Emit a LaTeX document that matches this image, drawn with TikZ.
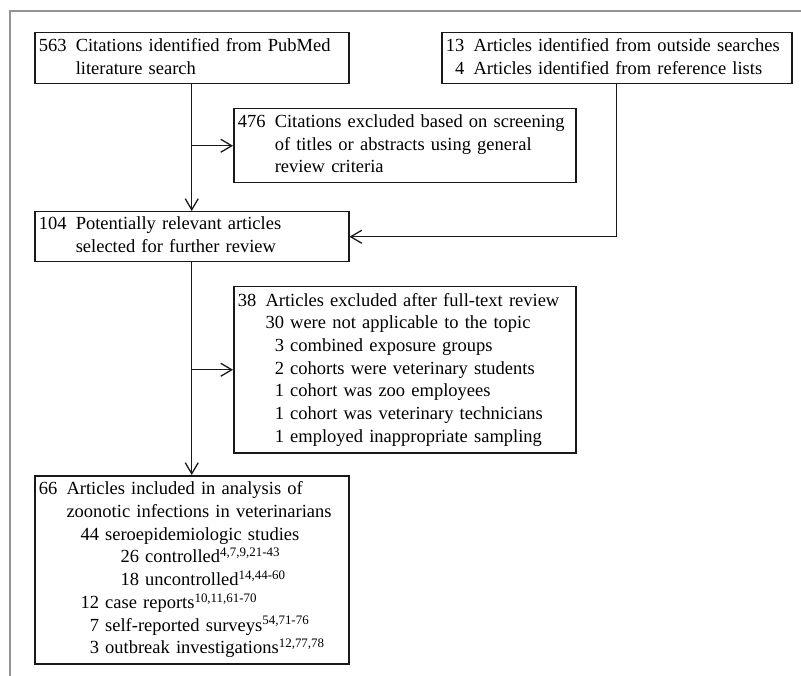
\documentclass[tikz,border=0pt]{standalone}
\usepackage{fontspec}
\setmainfont{Liberation Serif}
\usetikzlibrary{arrows.meta}
\newcommand{\flowfont}{\fontsize{18.5}{22.7}\selectfont}
\tikzset{
  box/.style={draw=black!90, line width=1.5pt, anchor=north west,
    inner xsep=4pt, inner ysep=0pt, align=left, font=\flowfont},
  link/.style={draw=black!90, line width=1.3pt, ->}
}

\begin{document}
\begin{tikzpicture}[x=1pt, y=-1pt, >={Straight Barb[length=11pt,width=13pt]}]
\useasboundingbox (0,0) rectangle (801,676);
\draw[black!42, line width=2.5pt] (10,676) -- (10,11) -- (801,11);

% boxes
\node[box, minimum width=314pt, minimum height=51pt, text width=306pt] (search) at (34,32)
  {\begin{tabular}{@{}r@{\hspace{0.5em}}l@{}}
   563 & Citations identified from PubMed\\
       & literature search
   \end{tabular}};
\node[box, minimum width=350pt, minimum height=51pt, text width=342pt] (outside) at (441,32)
  {\begin{tabular}{@{}r@{\hspace{0.5em}}l@{}}
   13 & Articles identified from outside searches\\
   4  & Articles identified from reference lists
   \end{tabular}};
\node[box, minimum width=342pt, minimum height=74pt, text width=334pt] (screen) at (233,108)
  {\begin{tabular}{@{}r@{\hspace{0.5em}}l@{}}
   476 & Citations excluded based on screening\\
       & of titles or abstracts using general\\
       & review criteria
   \end{tabular}};
\node[box, minimum width=314pt, minimum height=50pt, text width=306pt] (relevant) at (34,211)
  {\begin{tabular}{@{}r@{\hspace{0.5em}}l@{}}
   104 & Potentially relevant articles\\
       & selected for further review
   \end{tabular}};
\node[box, minimum width=342pt, minimum height=166pt, text width=334pt] (fulltext) at (233,286)
  {\begin{tabular}{@{}r@{\hspace{0.5em}}l@{}}
   38 & Articles excluded after full-text review\\
      & 30 were not applicable to the topic\\
      & \phantom{3}3 combined exposure groups\\
      & \phantom{3}2 cohorts were veterinary students\\
      & \phantom{3}1 cohort was zoo employees\\
      & \phantom{3}1 cohort was veterinary technicians\\
      & \phantom{3}1 employed inappropriate sampling
   \end{tabular}};
\node[box, minimum width=314pt, minimum height=188pt, text width=306pt] (included) at (34,475)
  {\begin{tabular}{@{}r@{\hspace{0.5em}}l@{}}
   66 & Articles included in analysis of\\
      & zoonotic infections in veterinarians\\
      & \hspace*{14pt}44 seroepidemiologic studies\\
      & \hspace*{54pt}26 controlled\textsuperscript{4,7,9,21-43}\\
      & \hspace*{54pt}18 uncontrolled\textsuperscript{14,44-60}\\
      & \hspace*{14pt}12 case reports\textsuperscript{10,11,61-70}\\
      & \hspace*{14pt}\phantom{1}7 self-reported surveys\textsuperscript{54,71-76}\\
      & \hspace*{14pt}\phantom{1}3 outbreak investigations\textsuperscript{12,77,78}
   \end{tabular}};

% connectors
\draw[link] (search.south) -- (relevant.north);
\draw[link] (search.south |- screen.west) -- (screen.west);
\draw[link] (outside.south) |- (relevant.east);
\draw[link] (relevant.south) -- (included.north);
\draw[link] (relevant.south |- fulltext.west) -- (fulltext.west);
\end{tikzpicture}
\end{document}
